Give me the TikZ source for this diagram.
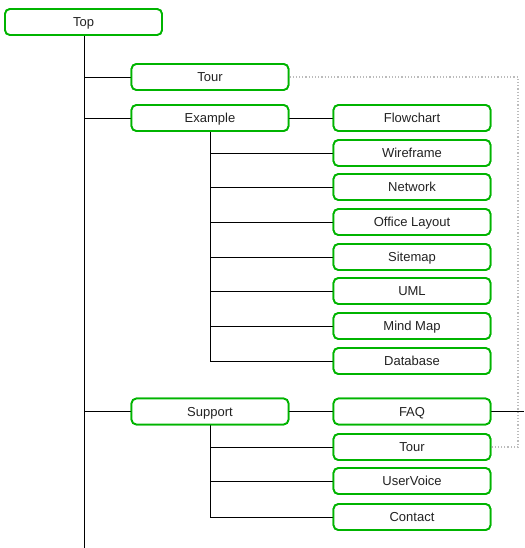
\documentclass[tikz,border=0pt]{standalone}
\usepackage{fontspec}
\setmainfont{Liberation Sans}
\definecolor{boxgreen}{HTML}{00B400}
\definecolor{txt}{HTML}{222222}
\definecolor{dotgray}{HTML}{BBBBBB}
\begin{document}
\begin{tikzpicture}[x=1pt,y=-1pt,
  box/.style={draw=boxgreen,line width=1.8pt,rounded corners=5pt,fill=white,
    minimum width=157pt,minimum height=26pt,inner sep=0pt,
    font=\fontsize{13}{15}\selectfont,text=txt,anchor=center,
    text depth=0pt,text height=9.6pt},
  link/.style={draw=black,line width=0.9pt},
  dotlink/.style={draw=dotgray,line width=1.2pt,dotted}]
\useasboundingbox (0,0) rectangle (524,548);
\coordinate (trunkEnd) at (84.5,548);
\coordinate (edgeR) at (524,411.5);
\coordinate (dotA) at (518,77);
\coordinate (dotB) at (518,447);
% nodes
\node[box] (top) at (83.5,22) {Top};
\node[box] (tour) at (210,77) {Tour};
\node[box] (example) at (210,118) {Example};
\node[box] (support) at (210,411.5) {Support};
\node[box] (flow) at (412,118) {Flowchart};
\node[box] (wire) at (412,153) {Wireframe};
\node[box] (net) at (412,187) {Network};
\node[box] (office) at (412,222) {Office Layout};
\node[box] (site) at (412,257) {Sitemap};
\node[box] (uml) at (412,291) {UML};
\node[box] (mind) at (412,326) {Mind Map};
\node[box] (db) at (412,361) {Database};
\node[box] (faq) at (412,411.5) {FAQ};
\node[box] (tour2) at (412,447) {Tour};
\node[box] (uv) at (412,481) {UserVoice};
\node[box] (contact) at (412,517) {Contact};
% connectors
\draw[link] (top.south -| trunkEnd) -- (trunkEnd);
\draw[link] (tour.west -| trunkEnd) -- (tour.west);
\draw[link] (example.west -| trunkEnd) -- (example.west);
\draw[link] (support.west -| trunkEnd) -- (support.west);
\draw[link] (example.east) -- (flow.west);
\draw[link] ([xshift=0.5pt]example.south) |- (wire.west);
\draw[link] ([xshift=0.5pt]example.south) |- (net.west);
\draw[link] ([xshift=0.5pt]example.south) |- (office.west);
\draw[link] ([xshift=0.5pt]example.south) |- (site.west);
\draw[link] ([xshift=0.5pt]example.south) |- (uml.west);
\draw[link] ([xshift=0.5pt]example.south) |- (mind.west);
\draw[link] ([xshift=0.5pt]example.south) |- (db.west);
\draw[link] (support.east) -- (faq.west);
\draw[link] ([xshift=0.5pt]support.south) |- (tour2.west);
\draw[link] ([xshift=0.5pt]support.south) |- (uv.west);
\draw[link] ([xshift=0.5pt]support.south) |- (contact.west);
\draw[link] (faq.east) -- (edgeR);
\draw[dotlink] (tour.east) -- (dotA) -- (dotB) -- (tour2.east);
% redraw boxes over lines
\foreach \n/\t in {top/Top,tour/Tour,example/Example,support/Support,flow/Flowchart,wire/Wireframe,net/Network,office/Office Layout,site/Sitemap,uml/UML,mind/Mind Map,db/Database,faq/FAQ,tour2/Tour,uv/UserVoice,contact/Contact}{
  \node[box] at (\n) {\t};
}
\end{tikzpicture}
\end{document}
